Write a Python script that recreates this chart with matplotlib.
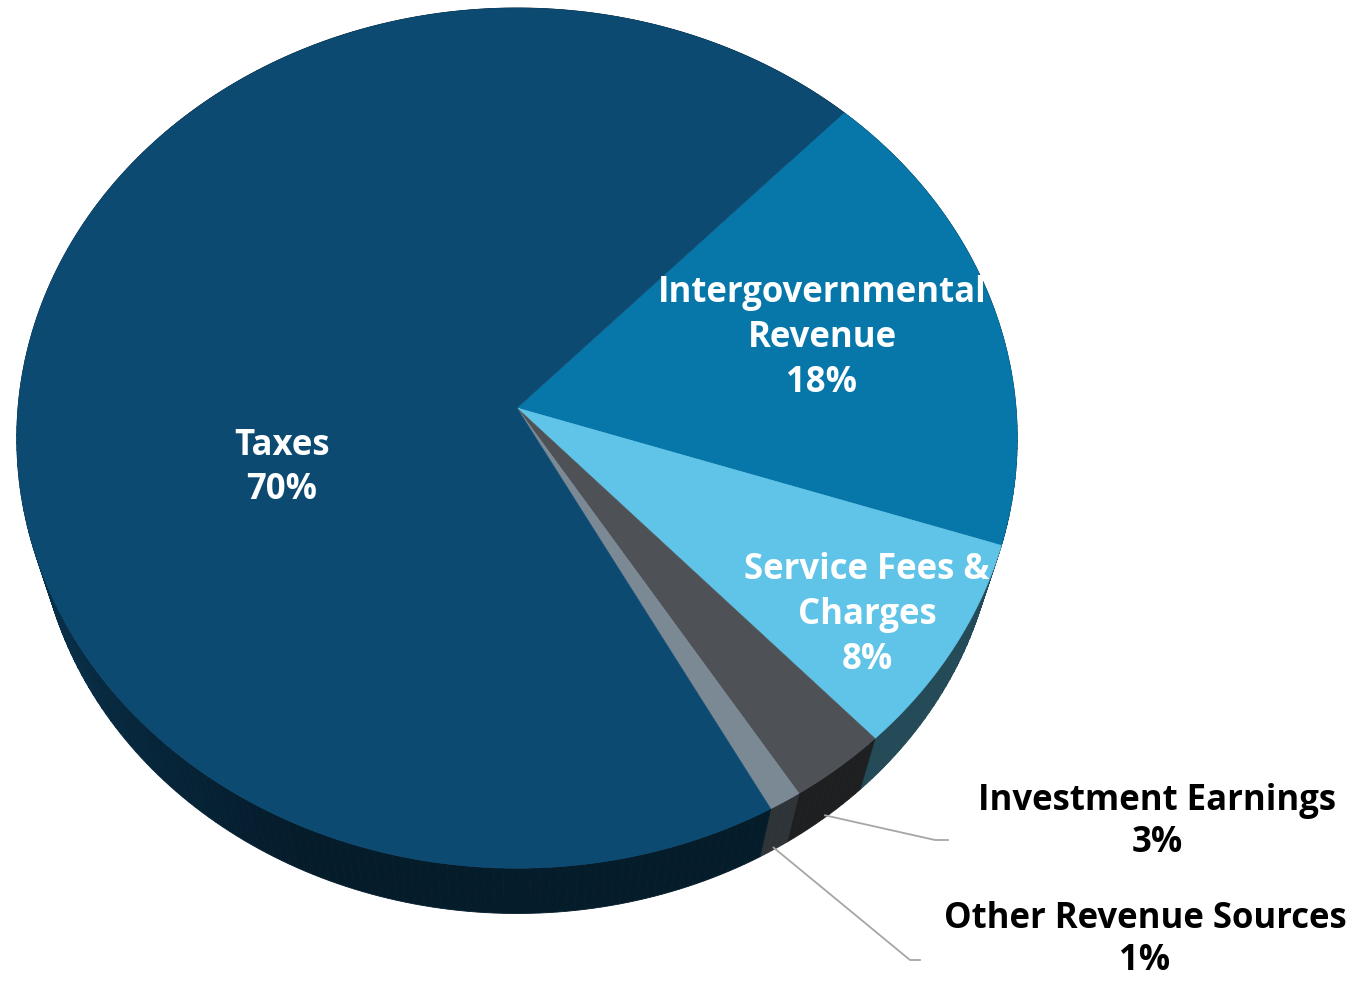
import numpy as np
import matplotlib
matplotlib.use('Agg')
from matplotlib import pyplot as plt
from matplotlib.patches import Polygon
from matplotlib.colors import to_rgb

# slice data, listed clockwise from the Taxes / Intergovernmental boundary
categories = ['Intergovernmental\nRevenue', 'Service Fees &\nCharges',
              'Investment Earnings', 'Other Revenue Sources', 'Taxes']
shares = [18, 8, 3, 1, 70]
colors = ['#0777aa', '#5fc4e8', '#4e5257', '#7b8995', '#0c4a72']

# drawing geometry (pixel units, y down)
CX, CY = 517, 408          # apex of the pie
RX, RY = 499, 428          # top ellipse radii
K = 0.07                   # perspective strength
SCALE_B, DROP_B = 0.96, 65  # bottom face shrink and drop
START = 46.5               # degrees, first boundary


def proj(t, s=1.0, drop=0.0):
    t = np.radians(t)
    u, w = s * np.cos(t), -s * np.sin(t)
    den = 1 - K * w
    return CX + RX * u / den, CY + RY * w / den + drop


def shade(t):
    t = t % 360
    f = np.clip((245 - t) / 45, 0, 1) if t > 150 else 0.0
    return 0.38 + 0.28 * f


fig = plt.figure(figsize=(13.59, 9.81), dpi=100)
ax = fig.add_axes([0, 0, 1, 1])
ax.set_xlim(0, 1359)
ax.set_ylim(981, 0)
ax.axis('off')

fracs = np.array(shares) / sum(shares) * 360
ends = START - np.cumsum(fracs)
starts = ends + fracs

# side walls
for a0, a1, col in zip(starts, ends, colors):
    base = np.array(to_rgb(col))
    edges = np.arange(a1, a0, 1.0)
    edges = np.append(edges, a0)
    for t0, t1 in zip(edges[:-1], edges[1:]):
        ts = np.linspace(t0, t1, 4)
        xt, yt = proj(ts)
        xb, yb = proj(ts[::-1], SCALE_B, DROP_B)
        c = base * shade((t0 + t1) / 2)
        ax.add_patch(Polygon(np.column_stack([np.r_[xt, xb], np.r_[yt, yb]]),
                             closed=True, facecolor=c, edgecolor=c, lw=0.6))

# top faces
for a0, a1, col in zip(starts, ends, colors):
    ts = np.linspace(a0, a1, max(int(abs(a0 - a1) * 2), 4))
    xs, ys = proj(ts)
    pts = np.column_stack([np.r_[CX, xs], np.r_[CY, ys]])
    ax.add_patch(Polygon(pts, closed=True, facecolor=col, edgecolor=col, lw=0.4))

tt = np.linspace(0, 360, 720)
ox, oy = proj(tt)
outline = Polygon(np.column_stack([ox, oy]), closed=True, transform=ax.transData)

font = ['Open Sans', 'DejaVu Sans']
inside = {4: (282, 468), 0: (822, 338), 1: (867, 615)}
for i, (x, y) in inside.items():
    txt = ax.text(x, y, f'{categories[i]}\n{shares[i]}%', color='white',
                  fontsize=25, fontweight='bold', family=font,
                  ha='center', va='center', linespacing=1.32)
    txt.set_clip_path(outline)

# outside labels with leader lines
outside = {2: ((1157, 822), (935, 840), (948, 840)),
           3: ((1145, 940), (910, 960), (920, 960))}
for i, (lab, elbow, tip) in outside.items():
    mid = (starts[i] + ends[i]) / 2
    sx, sy = proj(mid, SCALE_B, DROP_B)
    ax.plot([sx, elbow[0], tip[0]], [sy - 2, elbow[1], tip[1]],
            color='#a6a6a6', lw=1.3)
    ax.text(lab[0], lab[1], f'{categories[i]}\n{shares[i]}%', color='black',
            fontsize=25, fontweight='bold', family=font,
            ha='center', va='center', linespacing=1.2)

fig.savefig('out.png', dpi=100, facecolor='white')
